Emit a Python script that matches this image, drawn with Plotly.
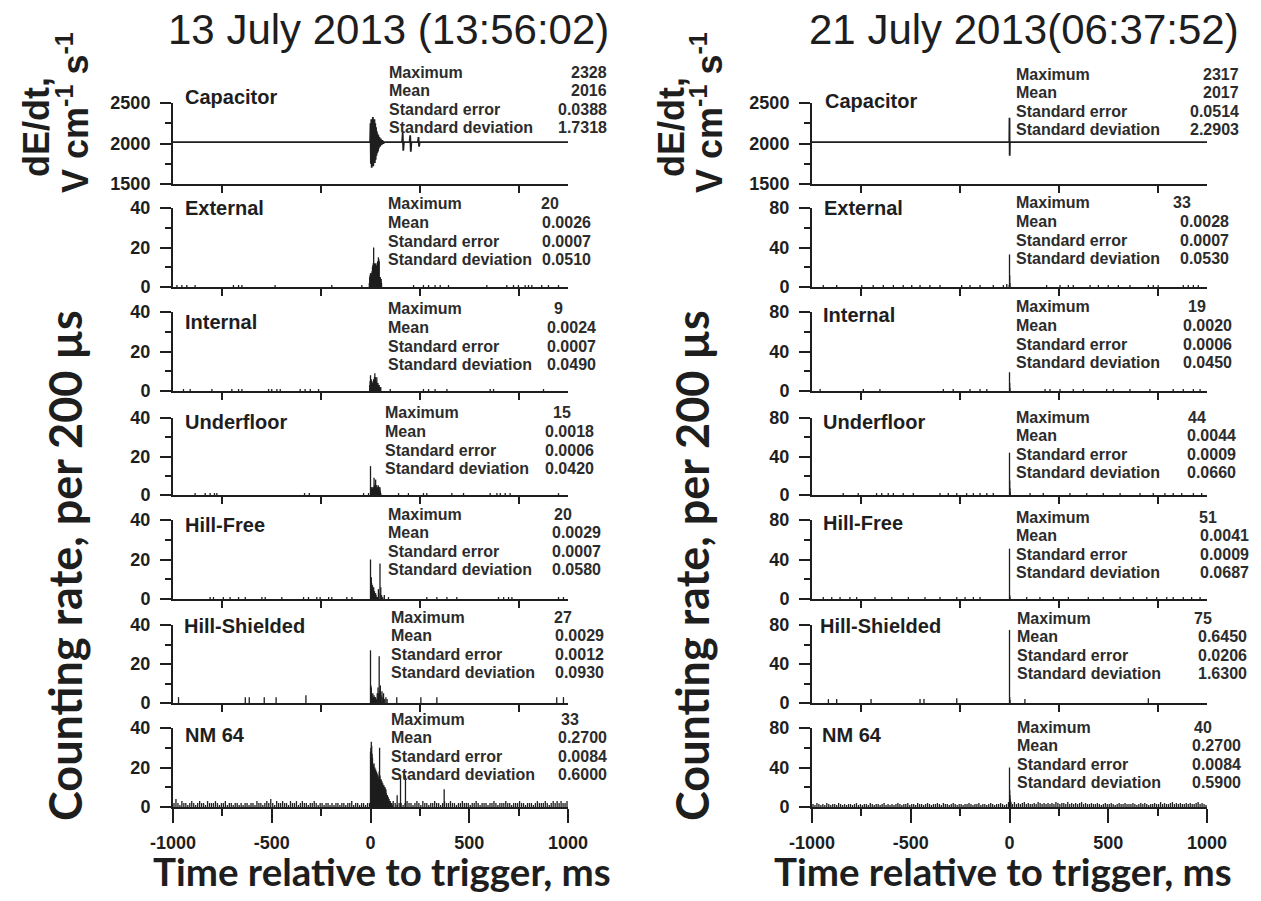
import plotly.graph_objects as go

W, H = 1261, 901

# ------------------------------------------------------------------ data
event_titles = ["13 July 2013 (13:56:02)", "21 July 2013(06:37:52)"]
channels = ["Capacitor", "External", "Internal", "Underfloor",
            "Hill-Free", "Hill-Shielded", "NM 64"]
stat_names = ["Maximum", "Mean", "Standard error", "Standard deviation"]
x_tick_vals = [-1000, -500, 0, 500, 1000]
x_tick_text = ["-1000", "-500", "0", "500", "1000"]
x_minor_vals = [-750, -250, 250, 750]

# summary statistics printed beside each panel (Maximum, Mean, SE, SD)
stats_0713 = [
    ["2328", "2016", "0.0388", "1.7318"],
    ["20", "0.0026", "0.0007", "0.0510"],
    ["9", "0.0024", "0.0007", "0.0490"],
    ["15", "0.0018", "0.0006", "0.0420"],
    ["20", "0.0029", "0.0007", "0.0580"],
    ["27", "0.0029", "0.0012", "0.0930"],
    ["33", "0.2700", "0.0084", "0.6000"],
]
stats_0721 = [
    ["2317", "2017", "0.0514", "2.2903"],
    ["33", "0.0028", "0.0007", "0.0530"],
    ["19", "0.0020", "0.0006", "0.0450"],
    ["44", "0.0044", "0.0009", "0.0660"],
    ["51", "0.0041", "0.0009", "0.0687"],
    ["75", "0.6450", "0.0206", "1.6300"],
    ["40", "0.2700", "0.0084", "0.5900"],
]

# --- 13 July 2013: capacitor dE/dt, V cm-1 s-1 (time in ms)
cap13_t = [-1000, -2, 0, 2, 4, 6, 8, 10, 12, 14, 16, 18, 20, 22, 24, 26, 28, 30,
           32, 34, 36, 38, 40, 42, 45, 48, 52, 56, 60, 65, 70,
           160, 163, 166, 169, 198, 201, 204, 207, 240, 243, 246, 249, 1000]
cap13_v = [2016, 2016, 2250, 1750, 2300, 1700, 2200, 1800, 2328, 1720, 2150, 1850,
           2300, 1760, 2250, 1800, 2200, 1850, 2150, 1880, 2120, 1900, 2100, 1940,
           2080, 1960, 2060, 1980, 2040, 2000, 2016,
           2016, 2130, 1910, 2016, 2016, 2100, 1900, 2016, 2016, 2080, 1960, 2016, 2016]

# --- 13 July 2013: counts per 200 us
ext13_t = [-980, -955, -930, -888, -694, -668, -651, -483, -196, -44,
           -6, -4, -2, 0, 2, 4, 6, 8, 10, 12, 14, 16, 18, 20, 22, 24, 26, 28, 30,
           32, 34, 36, 38, 40, 42, 44, 46, 48, 50, 52, 54, 56,
           218, 268, 294, 327, 353, 395, 589, 690, 724, 749, 783, 800, 817, 867, 901, 952]
ext13_n = [1, 1, 1, 1, 1, 1, 1, 1, 1, 1,
           2, 5, 6, 7, 6, 7, 5, 8, 10, 11, 12, 20, 11, 12, 10, 11, 12, 10, 11,
           9, 12, 13, 12, 15, 14, 13, 5, 4, 5, 3, 4, 2,
           1, 1, 1, 1, 1, 1, 1, 1, 1, 1, 1, 1, 1, 1, 1, 1]

int13_t = [-947, -913, -803, -702, -668, -651, -516, -500, -474, -457, -356, -331,
           -305, -263,
           -4, -2, 0, 2, 4, 6, 8, 10, 12, 14, 16, 18, 20, 22, 24, 26, 28, 30, 32,
           34, 36, 38, 40, 42, 44, 46, 48, 50, 52,
           100, 268, 294, 327, 387, 606, 623, 876]
int13_n = [1, 1, 1, 1, 1, 1, 1, 1, 1, 1, 1, 1, 1, 1,
           3, 5, 8, 4, 6, 3, 5, 4, 3, 4, 6, 5, 7, 9, 6, 7, 4, 5, 7,
           4, 3, 4, 3, 2, 3, 2, 2, 1, 2,
           1, 1, 1, 1, 1, 1, 1, 1]

und13_t = [-888, -837, -812, -790, -778, -334, -310, -35, -10,
           0, 2, 4, 6, 8, 10, 12, 14, 16, 18, 20, 22, 24, 26, 28, 30, 32, 34,
           36, 38, 40, 42, 44, 46, 48, 50, 52,
           142, 192, 268, 285, 412, 471, 606, 640, 657, 682, 707, 952]
und13_n = [1, 1, 1, 1, 1, 1, 1, 1, 1,
           15, 3, 4, 3, 4, 3, 4, 3, 4, 9, 5, 4, 6, 8, 5, 4, 5, 3,
           4, 3, 5, 4, 4, 3, 4, 2, 1,
           1, 1, 1, 1, 1, 1, 1, 1, 1, 1, 1, 1]

hfr13_t = [-812, -795, -745, -711, -668, -634, -550, -533, -449, -339, -314,
           -272, -255, -212, -196, -120, -94,
           0, 2, 4, 6, 8, 10, 12, 14, 16, 18, 20, 22, 24, 26, 28, 30, 36, 40, 42,
           48, 52, 56, 62, 70,
           91, 285, 336, 387, 437, 648, 674, 699, 716, 952, 977]
hfr13_n = [1, 1, 1, 1, 1, 1, 1, 1, 1, 1, 1, 1, 1, 1, 1, 1, 1,
           20, 10, 11, 8, 6, 7, 5, 4, 6, 3, 4, 3, 2, 3, 2, 1, 1, 5, 3,
           18, 6, 2, 1, 2,
           1, 1, 1, 1, 1, 1, 1, 1, 1, 1, 1]

hsh13_t = [-972, -634, -614, -538, -478, -327,
           0, 2, 4, 6, 8, 10, 12, 14, 16, 18, 20, 22, 26, 30, 34, 38, 40, 44, 46,
           50, 54, 58, 62, 66, 72, 78, 84,
           133, 255, 336, 943, 977]
hsh13_n = [3, 3, 3, 3, 3, 4,
           27, 9, 8, 5, 4, 3, 5, 3, 2, 4, 3, 2, 3, 2, 5, 8, 5, 24, 6,
           9, 4, 6, 3, 5, 2, 3, 2,
           3, 3, 3, 3, 3]

# neutron monitor background, 10 ms steps from -995 to 995 ms
nm13_bg = [2, 4, 2, 1, 3, 2, 2, 1, 2, 3, 2, 1, 2, 3, 2, 2, 1, 3, 2, 2,
           2, 3, 2, 1, 2, 2, 3, 1, 2, 2, 1, 2, 2, 1, 2, 1, 2, 2, 1, 2,
           2, 1, 3, 2, 2, 1, 2, 3, 2, 4, 2, 1, 3, 2, 2, 3, 2, 2, 1, 3,
           2, 2, 3, 1, 2, 3, 2, 2, 1, 2, 2, 3, 2, 1, 2, 2, 1, 2, 2, 1,
           2, 1, 2, 2, 1, 2, 2, 1, 2, 2, 3, 1, 2, 2, 1, 2, 2, 1, 2, 2,
           2, 2, 2, 2, 2, 2, 2, 2, 2, 2, 2, 3, 2, 1, 2, 2, 1, 2, 3, 2,
           2, 1, 2, 3, 2, 1, 3, 2, 2, 1, 2, 2, 3, 2, 2, 1, 2, 3, 2, 2,
           3, 2, 2, 1, 2, 2, 3, 2, 2, 2, 1, 2, 2, 3, 2, 1, 2, 2, 2, 1,
           2, 2, 3, 2, 1, 2, 2, 2, 3, 2, 2, 1, 2, 2, 2, 3, 2, 2, 1, 2,
           2, 2, 1, 2, 3, 2, 2, 2, 3, 2, 1, 2, 3, 2, 3, 2, 3, 2, 2, 3]
nm13_t = [0, 2, 4, 6, 8, 10, 12, 14, 16, 18, 20, 22, 24, 26, 28, 30, 32, 34, 36,
          38, 40, 42, 44, 46, 48, 50, 52, 54, 56, 58, 60, 62, 64, 66, 68, 70, 72,
          74, 76, 78, 80, 82, 84, 86, 88, 90, 92, 94, 96, 98, 100, 102, 104, 106,
          108, 110, 135, 152, 177, 373]
nm13_n = [28, 30, 33, 31, 27, 25, 22, 21, 20, 22, 19, 20, 18, 19, 17, 18, 16, 17,
          15, 16, 14, 15, 18, 30, 16, 14, 13, 14, 12, 13, 11, 12, 11, 10, 11, 10,
          9, 10, 8, 9, 7, 6, 5, 6, 4, 5, 3, 4, 3, 2, 3, 2, 2, 1, 2, 1, 6, 16, 16, 9]

# --- 21 July 2013
cap21_t = [-1000, -1, 0, 1, 2, 1000]
cap21_v = [2017, 2017, 2317, 1850, 2017, 2017]

ext21_t = [-943, -875, -748, -690, -639, -588, -538, -495, -453, -403, -352, -242,
           -200, -149, -82, -31, -14, -1, 0, 1, 2,
           188, 256, 298, 323, 408, 450, 500, 551, 610, 703, 728, 753, 880, 905,
           931, 956]
ext21_n = [2, 2, 2, 2, 2, 2, 2, 2, 2, 2, 2, 2, 2, 2, 2, 2, 3, 2, 33, 12, 4,
           2, 2, 2, 2, 2, 2, 2, 2, 2, 2, 2, 2, 2, 2, 2, 2]

int21_t = [-959, -740, -656, -335, -285, -200, -149, -115, 0, 1, 2,
           180, 205, 256, 323, 374, 492, 526, 610, 711, 829, 880, 931, 965]
int21_n = [2, 2, 2, 2, 2, 2, 2, 2, 19, 8, 3,
           2, 2, 2, 2, 2, 2, 2, 2, 2, 2, 2, 2, 2]

und21_t = [-842, -766, -673, -647, -614, -588, -538, -487, -352, -310, -267, -217,
           -183, -149, -115, -82, 0, 1, 2, 3,
           104, 171, 306, 391, 475, 560, 661, 728, 787, 829, 872, 931, 973]
und21_n = [2, 2, 2, 2, 2, 2, 2, 2, 2, 2, 2, 2, 2, 2, 2, 2, 44, 15, 7, 3,
           2, 2, 2, 2, 2, 2, 2, 2, 2, 2, 2, 2, 2]

hfr21_t = [-943, -900, -858, -808, -774, -681, -596, -512, -428, -352, -267, -225,
           -183, -149, 0, 1, 2,
           87, 154, 222, 298, 399, 475, 560, 627, 695, 745, 796, 829, 880, 922, 965]
hfr21_n = [2, 2, 2, 2, 2, 2, 2, 2, 2, 2, 2, 2, 2, 2, 51, 4, 2,
           2, 2, 2, 2, 2, 2, 2, 2, 2, 2, 2, 2, 2, 2, 2]

hsh21_t = [-917, -875, -701, -453, -433, -267, 0, 1, 2, 78, 703]
hsh21_n = [4, 4, 4, 4, 4, 5, 75, 6, 3, 4, 5]

nm21_bg = [3, 2, 4, 3, 2, 3, 2, 4, 3, 2, 3, 3, 2, 4, 3, 2, 3, 2, 3, 3,
           2, 3, 4, 2, 3, 2, 3, 3, 2, 4, 3, 2, 3, 3, 2, 3, 4, 2, 3, 2,
           3, 2, 3, 4, 3, 2, 3, 3, 4, 2, 3, 3, 2, 4, 3, 3, 2, 3, 4, 3,
           2, 3, 3, 4, 3, 2, 4, 3, 3, 2, 3, 4, 3, 2, 3, 3, 2, 3, 3, 4,
           3, 2, 3, 3, 4, 2, 3, 3, 2, 3, 4, 3, 2, 3, 3, 4, 3, 2, 3, 5,
           4, 3, 5, 3, 4, 3, 4, 5, 3, 4, 3, 3, 4, 3, 5, 4, 3, 4, 3, 4,
           3, 4, 3, 5, 4, 3, 4, 4, 3, 5, 3, 4, 3, 4, 3, 4, 5, 3, 4, 3,
           3, 4, 3, 3, 4, 3, 2, 3, 4, 3, 3, 4, 3, 2, 3, 4, 3, 3, 4, 3,
           3, 3, 4, 3, 2, 3, 4, 3, 4, 3, 2, 3, 3, 4, 3, 3, 5, 3, 4, 3,
           3, 4, 5, 3, 4, 3, 4, 3, 3, 4, 3, 4, 3, 3, 4, 5, 3, 4, 3, 2]
nm21_t = [0, 1, 2, 3, 5, 7]
nm21_n = [40, 17, 12, 8, 6, 5]

bg_t = [-995 + 10 * i for i in range(200)]  # 10 ms background bins

# ------------------------------------------------------------------ layout geometry (pixels)
col_px = [(173, 568), (812, 1207)]
row_px = [(103, 184), (208, 287), (312, 391), (418, 495), (520, 599), (625, 703), (728, 807)]
count_max = [40, 80]

INK = "#1e1e1e"
SOFT = "#2c2c2c"
SANS = "Liberation Sans, Arial, sans-serif"
HUMAN = "Lato, Open Sans, sans-serif"


def fx(px):
    return px / W


def fy(px):
    return 1 - px / H


def stems(ts, ns):
    xs, ys = [], []
    for t, n in zip(ts, ns):
        xs += [t, t, None]
        ys += [0, n, None]
    return xs, ys


series = [
    [("line", cap13_t, cap13_v), [(ext13_t, ext13_n)], [(int13_t, int13_n)],
     [(und13_t, und13_n)], [(hfr13_t, hfr13_n)], [(hsh13_t, hsh13_n)],
     [(bg_t, nm13_bg), (nm13_t, nm13_n)]],
    [("line", cap21_t, cap21_v), [(ext21_t, ext21_n)], [(int21_t, int21_n)],
     [(und21_t, und21_n)], [(hfr21_t, hfr21_n)], [(hsh21_t, hsh21_n)],
     [(bg_t, nm21_bg), (nm21_t, nm21_n)]],
]

fig = go.Figure()
layout = {}
annotations = []

for c in range(2):
    for r in range(7):
        k = c * 7 + r + 1
        xa = "x" if k == 1 else f"x{k}"
        ya = "y" if k == 1 else f"y{k}"
        xkey = "xaxis" if k == 1 else f"xaxis{k}"
        ykey = "yaxis" if k == 1 else f"yaxis{k}"
        x0, x1 = col_px[c]
        y0, y1 = row_px[r]
        data = series[c][r]
        if r == 0:
            _, tt, vv = data
            fig.add_trace(go.Scatter(x=tt, y=vv, mode="lines", xaxis=xa, yaxis=ya,
                                     line=dict(color=INK, width=1.8),
                                     hoverinfo="skip", showlegend=False))
            yr, ydt, ymin = [1500, 2500], 500, 250
        else:
            for tt, nn in data:
                xs, ys = stems(tt, nn)
                fig.add_trace(go.Scatter(x=xs, y=ys, mode="lines", xaxis=xa, yaxis=ya,
                                         line=dict(color=INK, width=1.3),
                                         hoverinfo="skip", showlegend=False))
            yr = [0, count_max[c]]
            ydt, ymin = count_max[c] / 2, count_max[c] / 4

        bottom = r == 6
        xaxis = dict(domain=[fx(x0), fx(x1)], range=[-1000, 1000], anchor=ya,
                     automargin=False,
                     showline=True, linecolor=INK, linewidth=2, showgrid=False,
                     zeroline=False, ticks="outside", tickcolor=INK, tickwidth=2)
        if bottom:
            xaxis.update(tickvals=x_tick_vals, ticktext=x_tick_text, ticklen=14,
                         showticklabels=True,
                         tickfont=dict(family=SANS, size=18, color=INK, weight="bold"),
                         ticklabelstandoff=4,
                         minor=dict(tickvals=x_minor_vals, ticklen=7, tickwidth=2,
                                    tickcolor=INK, ticks="outside"))
        else:
            xaxis.update(tickvals=x_minor_vals, ticklen=7, showticklabels=False)
        yaxis = dict(domain=[fy(y1), fy(y0)], range=yr, anchor=xa, automargin=False,
                     showline=True, linecolor=INK, linewidth=2, showgrid=False,
                     zeroline=False, ticks="outside", ticklen=11, tickwidth=2,
                     tickcolor=INK, dtick=ydt, tick0=0,
                     tickfont=dict(family=SANS, size=18, color=INK, weight="bold"),
                     ticklabelstandoff=6,
                     minor=dict(dtick=ymin, tick0=0, ticklen=6, tickwidth=2,
                                tickcolor=INK, ticks="outside"))
        layout[xkey] = xaxis
        layout[ykey] = yaxis

# ------------------------------------------------------------------ text blocks
name_pos = [
    [(184, 97), (184, 208), (184, 322), (184, 422), (184, 525), (183, 626), (184, 735)],
    [(824, 101), (823, 208), (822, 315), (822, 422), (822, 523), (819, 626), (821, 735)],
]
stat_label_x = [[388, 387, 387, 384, 387, 390, 390], [1015, 1015, 1015, 1015, 1015, 1016, 1016]]
stat_row0 = [[72, 204, 309, 413, 514, 617, 719], [74, 203, 307, 417, 517, 618, 727]]
stat_dec_right = [[608, 592, 597, 595, 602, 605, 608], [1240, 1230, 1233, 1237, 1250, 1248, 1242]]
stat_max_left = [[None, 540, 553, 552, 553, 553, 560], [None, 1172, 1187, 1187, 1198, 1193, 1193]]
ROW_STEP = 18.6

stats_all = [stats_0713, stats_0721]


def text(x, y, s, size, anchor="left", family=SANS, weight="bold", angle=0,
         color=INK):
    annotations.append(dict(x=fx(x), y=fy(y), xref="paper", yref="paper", text=s,
                            showarrow=False, xanchor=anchor, yanchor="middle",
                            textangle=angle, borderpad=0,
                            font=dict(family=family, size=size, color=color, weight=weight)))


for c in range(2):
    for r in range(7):
        nx, ny = name_pos[c][r]
        text(nx, ny, channels[r], 20)
        for i, lab in enumerate(stat_names):
            yy = stat_row0[c][r] + i * ROW_STEP
            text(stat_label_x[c][r], yy, lab, 16, color=SOFT)
            val = stats_all[c][r][i]
            if i == 0 and stat_max_left[c][r] is not None:
                text(stat_max_left[c][r], yy, val, 16, color=SOFT)
            else:
                text(stat_dec_right[c][r], yy, val, 16, anchor="right", color=SOFT)

# event titles
text(388, 29, event_titles[0], 42, anchor="center", weight="normal")
text(1024, 29, event_titles[1], 42, anchor="center", weight="normal")

# axis titles
for xa_, xb_, xc_ in [(37, 73, 65), (672, 707, 692)]:
    text(xa_, 127, "dE/dt,", 36, anchor="center", angle=-90)
    text(xb_, 113, "V cm<sup>-1</sup> s<sup>-1</sup>", 36, anchor="center", angle=-90)
    text(xc_, 566, "Counting rate, per 200 µs", 45, anchor="center", angle=-90,
         family=HUMAN)
text(382, 871, "Time relative to trigger, ms", 38.5, anchor="center", family=HUMAN)
text(1003, 871, "Time relative to trigger, ms", 38.5, anchor="center", family=HUMAN)

fig.update_layout(width=W, height=H, margin=dict(l=0, r=0, t=0, b=0),
                  paper_bgcolor="white", plot_bgcolor="white",
                  annotations=annotations, **layout)

fig.write_html("out.html")
